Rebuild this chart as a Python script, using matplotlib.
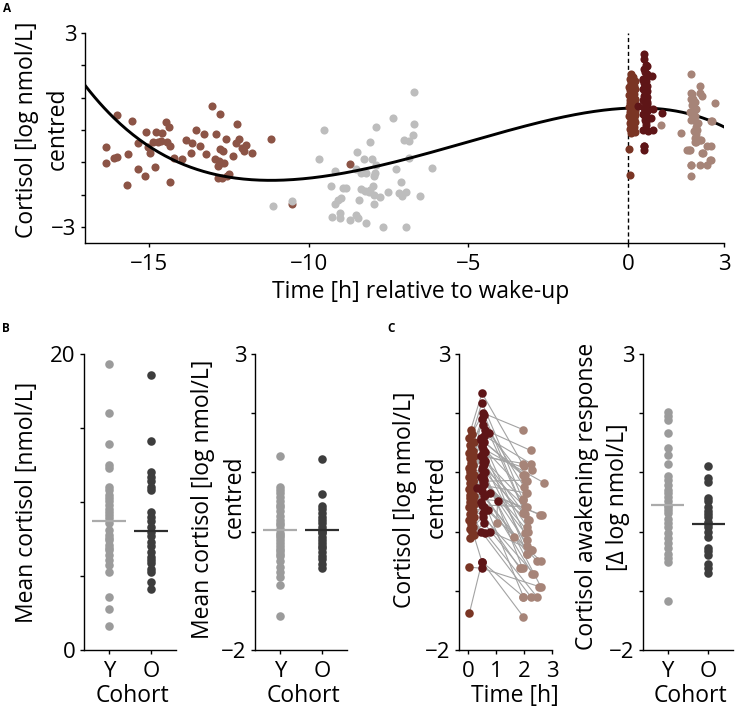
import numpy as np
import matplotlib
matplotlib.use("Agg")
import matplotlib.pyplot as plt

plt.rcParams['font.family'] = ['Open Sans', 'DejaVu Sans']
plt.rcParams['font.size'] = 16

# ---------------- DATA ----------------
# Panel A: evening samples (brown)
eve_t = [-16.01, -15.52, -16.35, -16.35, -16.08, -16.01, -15.65, -15.35, -15.35, -15.70,
         -15.13, -15.10, -15.02, -14.97, -14.81, -14.78, -14.60, -14.86, -14.71, -14.63,
         -14.45, -14.36, -14.43, -14.34, -14.34, -14.21, -13.96, -13.84, -13.69, -13.65,
         -13.53, -13.39, -13.28, -13.22, -13.03, -12.79, -12.89, -12.92, -12.76, -12.68,
         -12.60, -12.81, -12.85, -12.73, -12.65, -12.83, -12.71, -12.57, -12.50, -12.36,
         -12.24, -12.26, -12.19, -12.08, -12.03, -11.95, -11.77, -11.17, -8.72, -10.52]
eve_y = [0.46, 0.29, -0.54, -1.01, -0.88, -0.83, -0.75, -0.41, -1.22, -1.70,
         -1.42, -0.06, -0.54, -0.70, -1.14, -0.06, -0.10, -0.36, -0.38, -0.34,
         0.24, 0.08, -0.36, -0.49, -1.60, -0.88, -0.91, -0.31, -0.70, -0.39,
         0.01, -0.49, -0.12, -0.75, 0.75, 0.48, -0.13, -0.91, -0.60, -0.65,
         -0.29, -0.95, -1.13, -1.01, -1.03, -1.50, -1.50, -1.44, -1.37, -0.82,
         0.17, -0.41, -0.28, -0.57, -0.65, -0.47, -0.72, -0.29, -1.06, -2.30]

# Panel A: bedtime / night samples (grey)
night_t = [-11.11, -10.52, -9.52, -9.69, -9.19, -9.30, -8.93, -8.84, -8.98, -9.08,
           -9.16, -9.26, -9.03, -9.02, -8.72, -8.51, -8.44, -8.22, -8.48, -8.28,
           -8.02, -8.51, -8.35, -8.20, -7.89, -7.94, -8.37, -8.25, -8.09, -7.99,
           -7.94, -7.78, -7.94, -8.43, -8.09, -7.89, -7.52, -7.37, -7.28, -7.10,
           -7.16, -7.07, -6.95, -7.03, -6.87, -6.72, -6.69, -6.70, -6.87, -6.50,
           -6.14, -7.68, -6.95, -7.92, -8.10]
night_y = [-2.37, -2.19, 0.00, -0.89, -1.27, -1.73, -1.81, -1.81, -2.11, -2.17,
           -2.30, -2.70, -2.58, -2.74, -2.78, -2.63, -2.73, -2.87, -0.69, -0.90,
           -0.90, -1.22, -1.34, -1.34, -1.08, -1.44, -1.84, -1.89, -1.86, -1.75,
           -2.01, -2.08, -2.29, -2.17, -0.36, 0.08, -1.93, 0.36, -1.22, -1.62,
           -1.96, -2.06, -1.91, -0.31, -0.34, -0.16, 0.17, 1.16, -0.86, -2.06,
           -1.19, -2.99, -2.99, -1.34, -1.93]

# Fitted diurnal curve, read at anchor times
curve_t = [-17, -16, -14.9, -13.9, -12.8, -11.4, -10.5, -9.45, -8.4, -7.35,
           -6.0, -5.0, -3.2, -1.65, -0.5, 0.75, 2.0, 3.0]
curve_y = [1.33, 0.42, -0.67, -1.08, -1.39, -1.55, -1.55, -1.44, -1.25, -0.95,
           -0.62, -0.37, 0.0, 0.52, 0.71, 0.67, 0.41, 0.12]

# Morning samples per subject: wake, +30 min, +2 h
wake_y = [1.72, 1.65, 1.58, 1.52, 1.46, 1.40, 1.36, 1.32, 1.28, 1.24,
          1.20, 1.16, 1.12, 1.08, 1.04, 1.00, 0.96, 0.93, 0.90, 0.86,
          0.82, 0.78, 0.75, 0.72, 0.68, 0.64, 0.60, 0.57, 0.53, 0.50,
          0.46, 0.42, 0.38, 0.34, 0.30, 0.27, 0.24, 0.20, 0.16, 0.12,
          0.08, 0.04, 0.00, -0.05, -0.11, -0.60, -1.38, 1.10, 0.85, 0.62]
m30_y = [2.34, 2.18, 2.00, 1.97, 1.80, 1.72, 1.66, 1.58, 1.52, 1.44,
         1.35, 1.27, 1.18, 1.10, 1.01, 1.90, 1.62, 0.93, 1.40, 0.87,
         1.30, 0.73, 1.24, 0.65, 1.15, 0.62, 1.05, 0.52, 0.95, 0.50,
         0.80, 0.42, 0.36, 0.68, 0.31, 0.78, 0.00, 0.60, -0.02, 0.45,
         0.00, 0.25, 0.85, -0.51, 0.15, -0.62, -0.51, 1.55, 1.20, 0.90]
h2_y = [1.10, 0.55, 1.72, 0.30, 0.85, 1.37, 0.20, -0.14, 0.95, 0.65,
        -0.37, 1.15, 0.08, 0.42, -0.62, 0.76, 1.15, -0.31, 0.82, -0.03,
        1.04, -0.50, 0.53, 0.28, -0.25, -0.71, 0.31, 0.14, -0.93, -0.09,
        0.20, -0.50, -1.10, 0.28, -0.62, 0.65, -1.10, -0.37, -1.10, 0.42,
        -0.31, -0.71, 0.87, -1.44, -0.62, -0.93, -1.10, 0.96, 0.20, 0.00]
wake_t = [0.10, 0.15, 0.05, 0.20, 0.08, 0.12, 0.18, 0.03, 0.22, 0.06,
          0.14, 0.10, 0.19, 0.02, 0.16, 0.09, 0.21, 0.05, 0.13, 0.18,
          0.07, 0.12, 0.22, 0.04, 0.15, 0.10, 0.20, 0.06, 0.17, 0.09,
          0.23, 0.03, 0.14, 0.19, 0.08, 0.12, 0.21, 0.05, 0.16, 0.10,
          0.18, 0.07, 0.13, 0.20, 0.08, 0.04, 0.05, 0.11, 0.17, 0.09]
m30_t = [0.50, 0.50, 0.55, 0.58, 0.52, 0.60, 0.75, 0.48, 0.56, 0.50,
         0.60, 0.48, 0.55, 0.52, 0.60, 0.50, 0.57, 0.48, 0.55, 0.58,
         0.50, 0.31, 0.52, 0.78, 0.56, 0.60, 0.50, 1.06, 0.52, 0.48,
         0.58, 0.56, 0.70, 0.50, 0.52, 0.55, 0.48, 0.58, 0.62, 0.50,
         0.79, 0.55, 0.52, 0.50, 0.56, 0.50, 0.50, 0.48, 0.60, 0.55]
h2_t = [2.00, 1.95, 1.98, 2.05, 2.10, 2.24, 2.15, 2.12, 1.97, 2.08,
        2.10, 1.98, 2.12, 2.04, 1.95, 2.00, 2.24, 2.25, 2.73, 2.05,
        2.30, 2.46, 1.98, 2.58, 2.10, 2.30, 1.98, 1.02, 2.60, 1.66,
        2.15, 2.60, 1.98, 2.63, 1.85, 2.12, 2.24, 2.12, 2.46, 2.10,
        2.28, 2.35, 2.05, 1.98, 1.90, 2.55, 1.98, 2.02, 2.18, 2.15]

# Panel B: mean cortisol per participant, by cohort
cohorts = ["Y", "O"]
b_raw_young = [19.3, 16.0, 13.9, 12.5, 12.3, 11.0, 10.8, 10.5, 10.3, 10.1,
               9.8, 9.5, 9.3, 9.1, 8.9, 8.6, 8.1, 7.8, 7.6, 7.4,
               7.1, 6.9, 6.75, 6.4, 6.1, 5.75, 5.3, 3.6, 2.8, 1.6]
b_raw_old = [18.6, 14.1, 12.05, 11.7, 11.4, 11.0, 10.8, 9.35, 9.0, 8.7,
             8.3, 8.0, 7.7, 7.3, 7.0, 6.6, 6.3, 6.1, 5.9, 5.5,
             5.3, 4.6, 4.1]
b_raw_means = [8.72, 8.07]
b_log_young = [1.27, 0.76, 0.70, 0.65, 0.58, 0.51, 0.45, 0.42, 0.34, 0.27,
               0.20, 0.15, 0.11, 0.05, -0.02, -0.05, -0.09, -0.15, -0.20, -0.25,
               -0.30, -0.32, -0.38, -0.42, -0.50, -0.59, -0.68, -0.76, -0.90, -1.43]
b_log_old = [1.23, 0.64, 0.43, 0.39, 0.31, 0.25, 0.20, 0.14, 0.08, 0.02,
             0.00, -0.03, -0.09, -0.14, -0.20, -0.25, -0.28, -0.35, -0.42, -0.47,
             -0.55, -0.61]
b_log_means = [0.02, 0.02]

# Panel C: cortisol awakening response by cohort
c_car_young = [2.02, 1.95, 1.89, 1.66, 1.42, 1.29, 1.15, 0.94, 0.87, 0.79,
               0.70, 0.65, 0.59, 0.51, 0.45, 0.42, 0.36, 0.31, 0.22, 0.15,
               0.08, -0.03, -0.11, -0.20, -0.28, -0.37, -0.45, -0.51, -1.18]
c_car_old = [1.11, 0.90, 0.84, 0.56, 0.51, 0.42, 0.34, 0.30, 0.25, 0.17,
             0.12, 0.08, 0.00, -0.09, -0.28, -0.33, -0.40, -0.54, -0.62, -0.70]
c_car_means = [0.45, 0.13]

# ---------------- STYLE ----------------
C_EVE = '#8c5446'
C_NIGHT = '#bdbdbd'
C_WAKE = '#7a3524'
C_M30 = '#5e1517'
C_H2 = '#a68478'
C_YNG = '#9b9b9b'
C_OLD = '#3d3d3d'
C_YNG_LINE = '#ababab'
C_OLD_LINE = '#2e2e2e'
FS_LAB = 16.5
FS_TICK = 16

W, H = 736, 709
fig = plt.figure(figsize=(W / 100, H / 100), dpi=100)


def rect(x0, x1, ytop, ybot):
    return [x0 / W, 1 - ybot / H, (x1 - x0) / W, (ybot - ytop) / H]


def style(ax):
    for s in ('top', 'right'):
        ax.spines[s].set_visible(False)
    for s in ('left', 'bottom'):
        ax.spines[s].set_linewidth(1.0)
    ax.tick_params(direction='out', length=3, width=1, labelsize=FS_TICK, pad=3)


def ftext(x, y, s, **kw):
    fig.text(x / W, 1 - y / H, s, **kw)


def vlabel(x, y, s):
    ftext(x, y, s, rotation=90, ha='center', va='center', fontsize=FS_LAB)


# ---------------- PANEL A ----------------
axA = fig.add_axes(rect(85, 724, 33, 243))
style(axA)
axA.set_xlim(-17, 3)
axA.set_ylim(-3.5, 3)
axA.scatter(eve_t, eve_y, s=34, color=C_EVE, lw=0, zorder=2)
axA.scatter(night_t, night_y, s=34, color=C_NIGHT, lw=0, zorder=2)

# smooth fitted curve (polynomial through the read anchor values)
ct = np.asarray(curve_t, dtype=float)
poly = np.polynomial.Polynomial.fit(ct, np.asarray(curve_y), 5)
tt = np.linspace(-17, 3, 400)
axA.plot(tt, poly(tt), color='black', lw=2.1, zorder=3)
axA.axvline(0, color='black', lw=1, ls=(0, (3, 2)), zorder=3)
axA.scatter(wake_t, wake_y, s=34, color=C_WAKE, lw=0, zorder=4)
axA.scatter(m30_t, m30_y, s=34, color=C_M30, lw=0, zorder=4)
axA.scatter(h2_t, h2_y, s=34, color=C_H2, lw=0, zorder=4)
a_xticks = [-15, -10, -5, 0, 3]
axA.set_xticks(a_xticks)
axA.set_xticklabels(['\u2212' + str(-v) if v < 0 else str(v) for v in a_xticks])
a_yticks = [-3, -2, -1, 0, 1, 2, 3]
axA.set_yticks(a_yticks)
axA.set_yticklabels(['\u22123', '', '', '', '', '', '3'])
axA.tick_params(axis='x', pad=5)

vlabel(27, 130, 'Cortisol [log nmol/L]')
vlabel(58, 129, 'centred')
ftext(421, 298, 'Time [h] relative to wake-up', ha='center', va='baseline', fontsize=FS_LAB)


# ---------------- COHORT PANELS ----------------
def cohort_panel(x0, x1, young, old, means, ylim, yticks, yticklabels):
    ax = fig.add_axes(rect(x0, x1, 354, 650))
    style(ax)
    ax.set_xlim(0.4, 2.6)
    ax.set_ylim(*ylim)
    ax.scatter(np.full(len(young), 1.0), young, s=38, color=C_YNG, lw=0, zorder=2)
    ax.scatter(np.full(len(old), 2.0), old, s=38, color=C_OLD, lw=0, zorder=2)
    ax.hlines(means[0], 0.6, 1.4, color=C_YNG_LINE, lw=1.6, zorder=3)
    ax.hlines(means[1], 1.6, 2.4, color=C_OLD_LINE, lw=1.6, zorder=3)
    ax.set_xticks([1, 2])
    ax.set_xticklabels(cohorts)
    ax.set_yticks(yticks)
    ax.set_yticklabels(yticklabels)
    ax.tick_params(axis='x', pad=5)
    ftext((x0 + x1) / 2 + 2, 708, 'Cohort', ha='center', va='bottom', fontsize=FS_LAB)
    return ax


cohort_panel(84, 176, b_raw_young, b_raw_old, b_raw_means, (0, 20),
             [0, 5, 10, 15, 20], ['0', '', '', '', '20'])
cohort_panel(255, 347, b_log_young, b_log_old, b_log_means, (-2, 3),
             [-2, -1, 0, 1, 2, 3], ['\u22122', '', '', '', '', '3'])
cohort_panel(643, 733, c_car_young, c_car_old, c_car_means, (-2, 3),
             [-2, -1, 0, 1, 2, 3], ['\u22122', '', '', '', '', '3'])

vlabel(27, 502, 'Mean cortisol [nmol/L]')
vlabel(203, 499, 'Mean cortisol [log nmol/L]')
vlabel(235, 497, 'centred')
vlabel(587, 496, 'Cortisol awakening response')
vlabel(618, 497, '[\u0394 log nmol/L]')

# ---------------- PANEL C left ----------------
axC = fig.add_axes(rect(459, 552, 354, 650))
style(axC)
axC.set_xlim(-0.32, 3)
axC.set_ylim(-2, 3)
for i in range(len(wake_y)):
    axC.plot([wake_t[i], m30_t[i], h2_t[i]], [wake_y[i], m30_y[i], h2_y[i]],
             color='#a3a3a3', lw=0.8, zorder=1)
axC.scatter(wake_t, wake_y, s=38, color=C_WAKE, lw=0, zorder=2)
axC.scatter(m30_t, m30_y, s=38, color=C_M30, lw=0, zorder=2)
axC.scatter(h2_t, h2_y, s=38, color=C_H2, lw=0, zorder=2)
axC.set_xticks([0, 1, 2, 3])
axC.set_yticks([-2, -1, 0, 1, 2, 3])
axC.set_yticklabels(['\u22122', '', '', '', '', '3'])
axC.tick_params(axis='x', pad=5)
vlabel(405, 500, 'Cortisol [log nmol/L]')
vlabel(437, 497, 'centred')
ftext(515, 708, 'Time [h]', ha='center', va='bottom', fontsize=FS_LAB)

# ---------------- panel letters ----------------
ftext(7, 8, 'A', ha='center', va='center', fontsize=8.5, fontweight='bold')
ftext(6, 329, 'B', ha='center', va='center', fontsize=8.5, fontweight='bold')
ftext(391, 329, 'C', ha='center', va='center', fontsize=8.5, fontweight='bold')

fig.savefig('out.png', dpi=100)
